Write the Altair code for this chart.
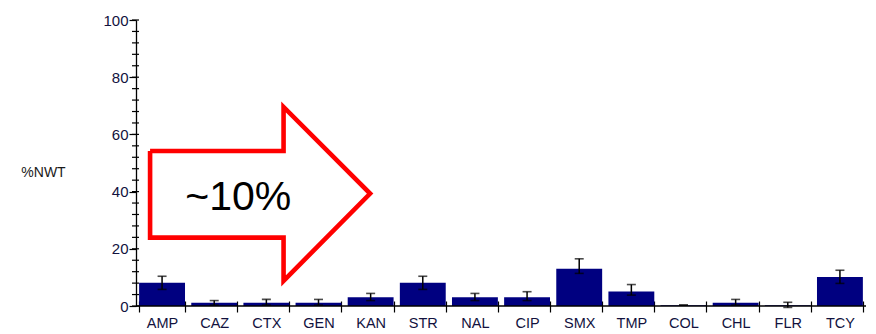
import altair as alt
import pandas as pd

# Antimicrobial agents on the x axis
agents = ["AMP", "CAZ", "CTX", "GEN", "KAN", "STR", "NAL",
          "CIP", "SMX", "TMP", "COL", "CHL", "FLR", "TCY"]
# Percentage non-wild-type, with lower / upper confidence limits
pct_nwt = [8.1, 1.1, 1.1, 1.1, 3.1, 8.1, 3.1, 3.1, 13.0, 5.1, 0.3, 1.1, 0.3, 10.1]
ci_low = [5.8, 0.3, 0.3, 0.3, 1.9, 5.8, 1.9, 1.9, 11.4, 3.8, 0.3, 0.3, -0.5, 7.9]
ci_high = [10.4, 1.9, 2.3, 2.3, 4.4, 10.4, 4.4, 5.0, 16.5, 7.5, 0.3, 2.3, 1.3, 12.5]

# y axis: labelled ticks every 20, small marks every 4
y_major = [0, 20, 40, 60, 80, 100]
y_minor = list(range(0, 101, 4))

# Callout arrow outline, in (agent slot, %NWT) units, closed polygon
arrow_u = [0.27, 2.83, 2.83, 4.49, 2.83, 2.83, 0.27, 0.27]
arrow_v = [54.2, 54.2, 69.6, 39.3, 8.8, 23.9, 23.9, 54.2]
callout_text = "~10%"
callout_u = 1.96
callout_v = 33.7

df = pd.DataFrame({"agent": agents, "pct": pct_nwt, "lo": ci_low, "hi": ci_high})
minor_df = pd.DataFrame({"t": y_minor})
arrow_df = pd.DataFrame({"u": arrow_u, "v": arrow_v, "k": list(range(len(arrow_u)))})
one = pd.DataFrame({"z": [0]})

FONT = "Liberation Sans"
LABEL = "#12123e"

yscale = alt.Scale(domain=[0, 100], nice=False)
xscale = alt.Scale(paddingInner=0.12, paddingOuter=0.06)

x_enc = alt.X(
    "agent:N", sort=agents, scale=xscale,
    axis=alt.Axis(
        title=None, labelAngle=0, domain=False, offset=-5, tickSize=11,
        tickBand="extent", tickColor="black", tickWidth=1.2,
        labelFont=FONT, labelFontSize=14.5, labelColor=LABEL, labelPadding=4,
        labelOverlap=False,
    ),
)
y_axis = alt.Axis(
    values=y_major, domain=True, domainColor="black", domainWidth=1.3,
    grid=False, tickSize=7, tickColor="black", tickWidth=1.2,
    labelOverlap=False, labelBound=False, labelFlush=False,
    labelFont=FONT, labelFontSize=15, labelColor=LABEL, labelPadding=1,
    title="%NWT", titleAngle=0, titleX=-93, titleY=152.5, titleAlign="center",
    titleBaseline="middle", titleFont=FONT, titleFontSize=14,
    titleFontWeight="normal", titleColor="#1a1a1a",
)

bars = alt.Chart(df).mark_bar(color="#000080").encode(
    x=x_enc, y=alt.Y("pct:Q", scale=yscale, axis=y_axis)
)
err = alt.Chart(df).mark_rule(color="black", strokeWidth=1.5).encode(
    x=alt.X("agent:N", sort=agents), y=alt.Y("lo:Q", axis=None), y2="hi:Q"
)
cap_lo = alt.Chart(df).mark_tick(color="black", size=9, thickness=1.6).encode(
    x=alt.X("agent:N", sort=agents), y=alt.Y("lo:Q", axis=None)
)
cap_hi = alt.Chart(df).mark_tick(color="black", size=9, thickness=1.6).encode(
    x=alt.X("agent:N", sort=agents), y=alt.Y("hi:Q", axis=None)
)
# short marks crossing the y axis line
minor = alt.Chart(minor_df).mark_rule(color="black", strokeWidth=1.2).encode(
    y=alt.Y("t:Q", axis=None), x=alt.value(-4), x2=alt.value(3)
)
x_line = alt.Chart(one).mark_rule(color="black", strokeWidth=1.3).encode(
    y=alt.Y(datum=0, axis=None), x=alt.value(0), x2=alt.value(730)
)

main = alt.layer(bars, err, cap_lo, cap_hi, minor, x_line).resolve_axis(y="independent")

uscale = alt.Scale(domain=[0, 14], nice=False, zero=False)
arrow = alt.Chart(arrow_df).mark_line(
    color="#ff0000", strokeWidth=4.6, strokeJoin="miter", strokeMiterLimit=20
).encode(
    x=alt.X("u:Q", scale=uscale, axis=None),
    y=alt.Y("v:Q", scale=yscale, axis=None),
    order="k:Q",
)
label = alt.Chart(one).mark_text(
    text=callout_text, font=FONT, fontSize=41, color="black",
    align="center", baseline="alphabetic",
).encode(
    x=alt.X(datum=callout_u, type="quantitative", scale=uscale, axis=None),
    y=alt.Y(datum=callout_v, type="quantitative", scale=yscale, axis=None),
)
callout = alt.layer(arrow, label)

chart = alt.layer(main, callout).resolve_scale(x="independent").resolve_axis(
    y="independent"
).properties(
    width=730, height=286, autosize="none",
    padding={"left": 136, "top": 20, "right": 10, "bottom": 28},
    background="white",
).configure_view(stroke=None)

chart.save("out.html", embed_options={"renderer": "svg", "actions": False})
